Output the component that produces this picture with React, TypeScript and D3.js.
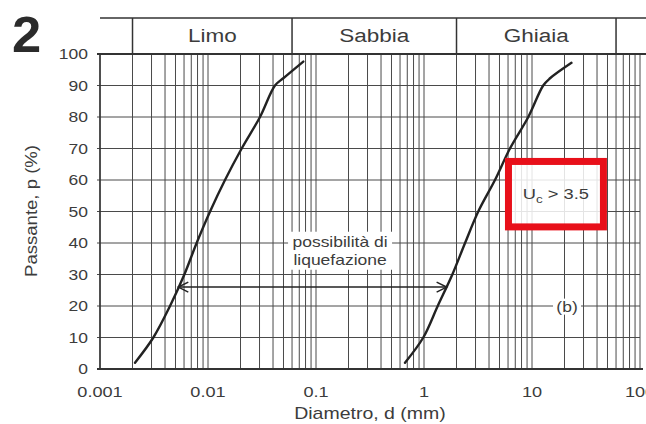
import React from "react";
import * as d3 from "d3";

// ---- data ----
const yTicks = [0, 10, 20, 30, 40, 50, 60, 70, 80, 90, 100];
const xTicks = [0.001, 0.01, 0.1, 1, 10, 100];
const xTickLabels = ["0.001", "0.01", "0.1", "1", "10", "100"];
const zoneBounds = [0.002, 0.06, 2, 60];
const zoneLabels = ["Limo", "Sabbia", "Ghiaia"];

const leftDiam = [0.00211, 0.00312, 0.00445, 0.00604, 0.00785, 0.01045, 0.01437, 0.0205, 0.0303, 0.0417, 0.0498, 0.0763];
const leftPass = [2, 10, 20, 30, 40, 50, 60, 70, 80, 90, 92.3, 97.6];
const rightDiam = [0.667, 0.985, 1.34, 1.83, 2.4, 3.18, 4.54, 6.25, 9.24, 12.7, 14.7, 23.2];
const rightPass = [2, 10, 20, 30, 40, 50, 60, 70, 80, 90, 92.3, 97.2];

const arrowDiam = [0.00531, 1.62];
const arrowPass = 26;
const liqLabel = ["possibilità di", "liquefazione"];
const liqLabelPos = { d: 0.167, p: [40.4, 34.6] };
const bLabel = "(b)";
const bLabelPos = { d: 21.1, p: 19.8 };
const ucBoxDiam = [5.62, 49.4];
const ucBoxPass = [67, 44];

const FONT = "'Liberation Sans', Arial, Helvetica, sans-serif";
const TXT = "#3c3c3c";

function T({ x, y, size, sx = 1.25, anchor = "middle", rotate = 0, children, weight = "normal", fill = TXT, dy = "0" }: any) {
  return (
    <text
      transform={`translate(${x},${y}) rotate(${rotate}) scale(${sx},1)`}
      fontSize={size}
      fontFamily={FONT}
      textAnchor={anchor}
      fontWeight={weight}
      fill={fill}
      dy={dy}
    >
      {children}
    </text>
  );
}

export default function App() {
  const W = 646, H = 424;
  const x = d3.scaleLog().domain([0.001, 100]).range([100, 640]);
  const y = d3.scaleLinear().domain([0, 100]).range([369, 54]);

  const vGrid: number[] = [];
  for (let k = -3; k <= 1; k++) for (let m = 1; m <= 9; m++) vGrid.push(m * Math.pow(10, k));
  vGrid.push(100);

  const leftPts = leftDiam.map((d, i) => [x(d), y(leftPass[i])] as [number, number]);
  const rightPts = rightDiam.map((d, i) => [x(d), y(rightPass[i])] as [number, number]);
  const lineGen = d3.line<[number, number]>().curve(d3.curveCatmullRom.alpha(0.5));

  const ax0 = x(arrowDiam[0]), ax1 = x(arrowDiam[1]), ay = y(arrowPass);
  const headL = 10, headW = 5;

  const lx = x(liqLabelPos.d);
  const bx = x(bLabelPos.d), by = y(bLabelPos.p);

  const rx0 = x(ucBoxDiam[0]), rx1 = x(ucBoxDiam[1]);
  const ry0 = y(ucBoxPass[0]), ry1 = y(ucBoxPass[1]);
  const sw = 7;

  const headerTop = 18;

  return (
    <svg width={W} height={H} style={{ position: "absolute", left: 0, top: 0, background: "#fff" }}>
      <rect width={W} height={H} fill="#fff" />
      {/* vertical grid */}
      {vGrid.map((v, i) => (
        <line key={"v" + i} x1={x(v)} x2={x(v)} y1={y(0)} y2={y(100)} stroke="#4a4a4a" strokeWidth={1} />
      ))}
      {/* horizontal grid */}
      {yTicks.map((t) => (
        <line key={"h" + t} x1={97} x2={640} y1={y(t)} y2={y(t)} stroke="#4a4a4a" strokeWidth={1} />
      ))}
      {/* frame */}
      <line x1={100} x2={100} y1={y(0)} y2={y(100)} stroke="#333" strokeWidth={1.5} />
      <line x1={97} x2={643} y1={y(0)} y2={y(0)} stroke="#333" strokeWidth={2} />
      <line x1={97} x2={646} y1={y(100)} y2={y(100)} stroke="#333" strokeWidth={2} />

      {/* header */}
      <line x1={100} x2={646} y1={headerTop} y2={headerTop} stroke="#333" strokeWidth={1.5} />
      {zoneBounds.map((b, i) => (
        <line key={"z" + i} x1={x(b)} x2={x(b)} y1={headerTop} y2={y(100)} stroke="#333" strokeWidth={1.5} />
      ))}
      {zoneLabels.map((lab, i) => (
        <T key={lab} x={(x(zoneBounds[i]) + x(zoneBounds[i + 1])) / 2} y={(headerTop + y(100)) / 2} size={18} dy="0.35em">
          {lab}
        </T>
      ))}

      {/* y tick labels */}
      {yTicks.map((t) => (
        <T key={"yt" + t} x={88} y={y(t)} size={14} anchor="end" dy="0.36em">
          {t}
        </T>
      ))}
      {/* x tick labels */}
      {xTicks.map((t, i) => (
        <T key={"xt" + t} x={x(t)} y={397} size={14.5}>
          {xTickLabels[i]}
        </T>
      ))}
      <T x={370} y={419} size={16} sx={1.22}>Diametro, d (mm)</T>
      <T x={37} y={211} size={16} sx={1.16} rotate={-90}>Passante, p (%)</T>

      <T x={12} y={52} size={50} sx={1.05} anchor="start" weight="bold" fill="#2b2b2b">2</T>

      {/* curves */}
      <path d={lineGen(leftPts) || ""} fill="none" stroke="#222" strokeWidth={2.4} strokeLinejoin="round" strokeLinecap="round" />
      <path d={lineGen(rightPts) || ""} fill="none" stroke="#222" strokeWidth={2.4} strokeLinejoin="round" strokeLinecap="round" />

      {/* arrow */}
      <line x1={ax0} x2={ax1} y1={ay} y2={ay} stroke="#222" strokeWidth={1.5} />
      <path d={`M${ax0 + headL},${ay - headW}L${ax0},${ay}L${ax0 + headL},${ay + headW}`} fill="none" stroke="#222" strokeWidth={1.5} />
      <path d={`M${ax1 - headL},${ay - headW}L${ax1},${ay}L${ax1 - headL},${ay + headW}`} fill="none" stroke="#222" strokeWidth={1.5} />

      {/* liquefaction label */}
      <rect x={lx - 52} y={y(liqLabelPos.p[0]) - 10} width={104} height={38} fill="#fff" />
      {liqLabel.map((s, i) => (
        <T key={s} x={lx} y={y(liqLabelPos.p[i])} size={14} dy="0.35em">{s}</T>
      ))}

      {/* (b) */}
      <rect x={bx - 14} y={by - 8} width={28} height={16} fill="#fff" />
      <T x={bx} y={by} size={14} dy="0.35em">{bLabel}</T>

      {/* Uc box */}
      <rect
        x={rx0 + sw / 2}
        y={ry0 + sw / 2}
        width={rx1 - rx0 - sw}
        height={ry1 - ry0 - sw}
        fill="rgba(255,255,255,0.85)"
        stroke="#e8101a"
        strokeWidth={sw}
      />
      <text
        transform={`translate(${(rx0 + rx1) / 2},${(ry0 + ry1) / 2}) scale(1.22,1)`}
        fontSize={15}
        fontFamily={FONT}
        textAnchor="middle"
        dy="0.35em"
        fill={TXT}
      >
        U<tspan fontSize={11} dy="4">c</tspan>
        <tspan dy="-4"> &gt; 3.5</tspan>
      </text>
    </svg>
  );
}
